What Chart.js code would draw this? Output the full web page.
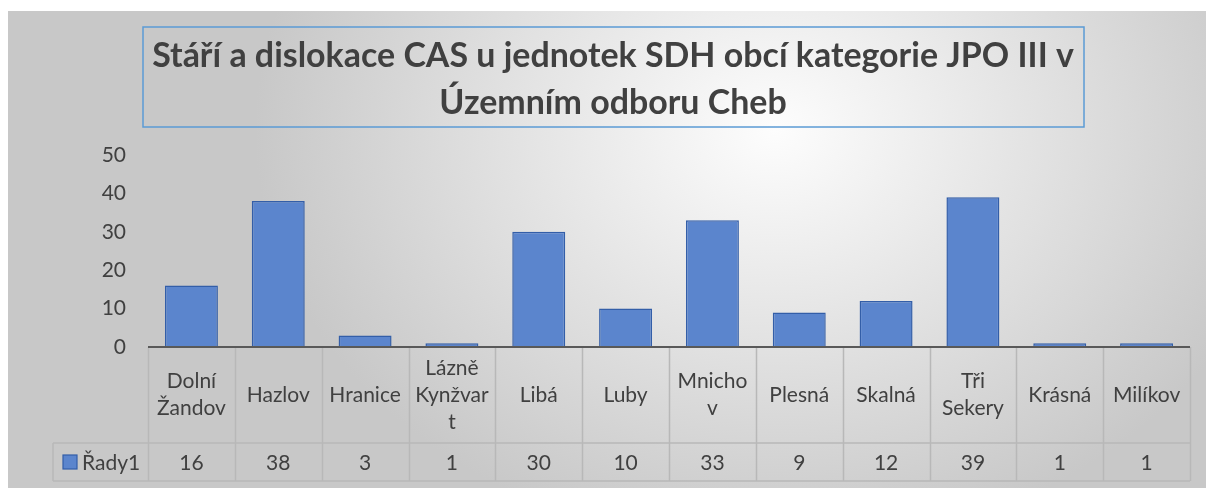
<!DOCTYPE html>
<html lang="cs">
<head>
    <meta charset="UTF-8">
    <title>Stáří a dislokace CAS</title>
    <script src="https://cdn.jsdelivr.net/npm/chart.js"></script>
    <style>
        body { margin: 0; background: #ffffff; }
        #wrap {
            position: absolute; left: 8px; top: 11px;
            width: 1198px; height: 477px;
            background: radial-gradient(ellipse 520px 420px at 64% 25%, #fdfdfd 0%, #c8c8c8 100%);
        }
    </style>
</head>
<body>
    <div id="wrap">
        <canvas id="myChart" width="1198" height="477"></canvas>
    </div>
    <script>
        // data
        const titleLines = ['Stáří a dislokace CAS u jednotek SDH obcí kategorie JPO III v', 'Územním odboru Cheb'];
        const categories = ['Dolní Žandov', 'Hazlov', 'Hranice', 'Lázně Kynžvart', 'Libá', 'Luby', 'Mnichov', 'Plesná', 'Skalná', 'Tři Sekery', 'Krásná', 'Milíkov'];
        // zalomení popisků tak jak je v tabulce
        const tickLabels = [['Dolní', 'Žandov'], ['Hazlov'], ['Hranice'], ['Lázně', 'Kynžvar', 't'], ['Libá'], ['Luby'], ['Mnicho', 'v'], ['Plesná'], ['Skalná'], ['Tři', 'Sekery'], ['Krásná'], ['Milíkov']];
        const seriesName = 'Řady1';
        const values = [16, 38, 3, 1, 30, 10, 33, 9, 12, 39, 1, 1];

        const textColor = '#404040';
        const fontFam = 'Lato, "Open Sans", sans-serif';
        const fontSize = 21;

        // titulek v rámečku
        const titlePlugin = {
            id: 'titleBox',
            afterDraw(chart) {
                const ctx = chart.ctx;
                ctx.save();
                ctx.strokeStyle = '#5b9bd5';
                ctx.lineWidth = 1.5;
                ctx.strokeRect(135, 16, 941, 100);
                // velikost písma podle šířky prvního řádku
                let size = 31;
                ctx.font = 'bold ' + size + 'px ' + fontFam;
                const w = ctx.measureText(titleLines[0]).width;
                size = size * 922 / w;
                ctx.font = 'bold ' + size + 'px ' + fontFam;
                ctx.fillStyle = textColor;
                ctx.textAlign = 'center';
                ctx.textBaseline = 'middle';
                ctx.fillText(titleLines[0], 605, 45);
                ctx.fillText(titleLines[1], 605, 92);
                ctx.restore();
            }
        };

        // datová tabulka pod grafem
        const tablePlugin = {
            id: 'dataTable',
            afterDraw(chart) {
                const ctx = chart.ctx;
                const x = chart.scales.x;
                const area = chart.chartArea;
                const n = categories.length;
                const step = (area.right - area.left) / n;
                const top = area.bottom;
                const mid = 432;
                const bottom = 470;
                const legLeft = 45;

                ctx.save();
                ctx.strokeStyle = '#b8b8b8';
                ctx.lineWidth = 1.5;
                ctx.beginPath();
                for (let i = 0; i <= n; i++) {
                    const px = Math.round(area.left + i * step) + 0.5;
                    ctx.moveTo(px, top);
                    ctx.lineTo(px, bottom);
                }
                ctx.moveTo(legLeft, mid); ctx.lineTo(area.right, mid);
                ctx.moveTo(legLeft, bottom); ctx.lineTo(area.right, bottom);
                ctx.moveTo(legLeft, mid); ctx.lineTo(legLeft, bottom);
                ctx.stroke();

                // osa x
                ctx.strokeStyle = '#595959';
                ctx.lineWidth = 2;
                ctx.beginPath();
                ctx.moveTo(area.left, top);
                ctx.lineTo(area.right, top);
                ctx.stroke();

                ctx.fillStyle = textColor;
                ctx.font = fontSize + 'px ' + fontFam;
                ctx.textAlign = 'center';
                ctx.textBaseline = 'middle';
                const lh = 27;
                tickLabels.forEach((lines, i) => {
                    const cx = x.getPixelForValue(i);
                    const cy = (top + mid) / 2;
                    const y0 = cy - (lines.length - 1) * lh / 2;
                    lines.forEach((t, j) => ctx.fillText(t, cx, y0 + j * lh));
                    ctx.fillText(String(values[i]), cx, (mid + bottom) / 2 + 1);
                });

                // legenda
                const ly = (mid + bottom) / 2;
                ctx.fillStyle = '#5b85cd';
                ctx.strokeStyle = '#335ea8';
                ctx.lineWidth = 1.2;
                ctx.fillRect(55, ly - 7, 14, 14);
                ctx.strokeRect(55, ly - 7, 14, 14);
                ctx.fillStyle = textColor;
                ctx.textAlign = 'left';
                ctx.fillText(seriesName, 74, ly + 1);
                ctx.restore();
            }
        };

        const ctx = document.getElementById('myChart').getContext('2d');
        const myChart = new Chart(ctx, {
            type: 'bar',
            data: {
                labels: categories,
                datasets: [{
                    label: seriesName,
                    data: values,
                    backgroundColor: '#5b85cd',
                    borderColor: '#335ea8',
                    borderWidth: 1.5,
                    categoryPercentage: 1,
                    barPercentage: 0.61
                }]
            },
            options: {
                responsive: false,
                animation: false,
                layout: { padding: { top: 144, right: 16, bottom: 141, left: 0 } },
                plugins: {
                    legend: { display: false },
                    tooltip: { enabled: false }
                },
                scales: {
                    x: { display: false },
                    y: {
                        min: 0,
                        max: 50,
                        afterFit(scale) { scale.width = 140; },
                        border: { display: false },
                        grid: { display: false, drawTicks: false },
                        ticks: {
                            stepSize: 10,
                            padding: 22,
                            color: textColor,
                            font: { family: fontFam, size: fontSize }
                        }
                    }
                }
            },
            plugins: [titlePlugin, tablePlugin]
        });
    </script>
</body>
</html>
